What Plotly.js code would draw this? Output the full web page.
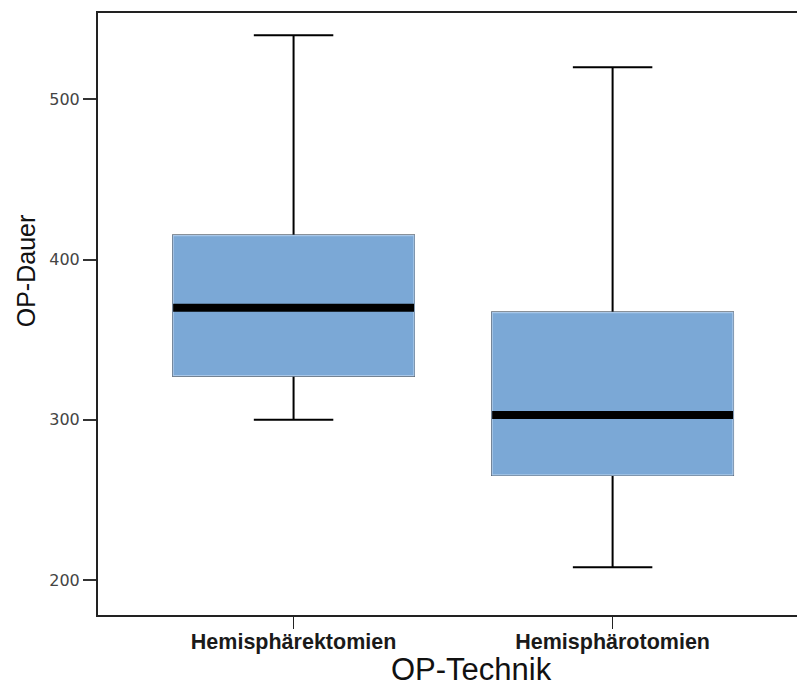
<!DOCTYPE html>
<html><head><meta charset="utf-8">
<script src="https://cdn.plot.ly/plotly-3.0.1.min.js"></script>
<style>html,body{margin:0;padding:0;background:#fff}</style>
</head><body><div id="chart" style="width:797px;height:688px"></div>
<script>
const categories = ["Hemisphärektomien", "Hemisphärotomien"];
const positions = [0, 1];
const lowerWhisker = [300, 208];
const q1 = [327.5, 265.5];
const median = [370, 303];
const q3 = [415, 367];
const upperWhisker = [540, 520];
const yTicks = [200, 300, 400, 500];
const xTitle = 'OP-Technik';
const yTitle = 'OP-Dauer';

const boxWidth = 0.755;
const fill = '#7ba8d6';

const whiskers = {
  type: 'box', x: positions, q1: q1, median: median, q3: q3,
  lowerfence: lowerWhisker, upperfence: upperWhisker,
  width: boxWidth, whiskerwidth: 0.33,
  line: {color: '#000', width: 2}, fillcolor: fill,
  hoverinfo: 'skip', showlegend: false
};
const boxes = {
  type: 'box', x: positions, q1: q1, median: median, q3: q3,
  lowerfence: q1, upperfence: q3,
  width: boxWidth, whiskerwidth: 0,
  line: {color: '#a9c7e8', width: 1.5}, fillcolor: fill,
  hoverinfo: 'skip', showlegend: false
};
const mx = [], my = [];
positions.forEach((p, i) => {
  mx.push(p - boxWidth / 2, p + boxWidth / 2, null);
  my.push(median[i], median[i], null);
});
const medians = {
  type: 'scatter', mode: 'lines', x: mx, y: my,
  line: {color: '#000', width: 8}, hoverinfo: 'skip', showlegend: false
};

const titleFont = 'Liberation Sans, Arial, sans-serif';
const layout = {
  width: 797, height: 688,
  margin: {l: 98, r: 0, t: 13, b: 73},
  paper_bgcolor: '#fff', plot_bgcolor: '#fff',
  showlegend: false,
  xaxis: {
    range: [-0.613, 1.578], tickvals: positions, ticktext: categories,
    showgrid: false, zeroline: false,
    showline: true, mirror: true, linecolor: '#222', linewidth: 2,
    ticks: 'outside', ticklen: 12, tickwidth: 1.5, tickcolor: '#222',
    ticklabelstandoff: -6,
    tickfont: {family: titleFont, size: 21.5, color: '#1a1a1a', weight: 'bold'}
  },
  yaxis: {
    range: [178.2, 553.9], tickvals: yTicks,
    showgrid: false, zeroline: false,
    showline: true, mirror: false, linecolor: '#222', linewidth: 2,
    ticks: 'outside', ticklen: 13, tickwidth: 2, tickcolor: '#333',
    tickfont: {family: 'DejaVu Sans, sans-serif', size: 16, color: '#444'}
  },
  annotations: [
    {text: xTitle, xref: 'paper', yref: 'paper', x: 0.535, y: -0.09,
     xanchor: 'center', yanchor: 'middle', showarrow: false,
     font: {family: titleFont, size: 31, color: '#111'}},
    {text: yTitle, xref: 'paper', yref: 'paper', x: -0.103, y: 0.571,
     xanchor: 'center', yanchor: 'middle', showarrow: false, textangle: -90,
     font: {family: titleFont, size: 25, color: '#111'}}
  ]
};
Plotly.newPlot('chart', [whiskers, boxes, medians], layout, {displayModeBar: false, staticPlot: true});
</script></body></html>
